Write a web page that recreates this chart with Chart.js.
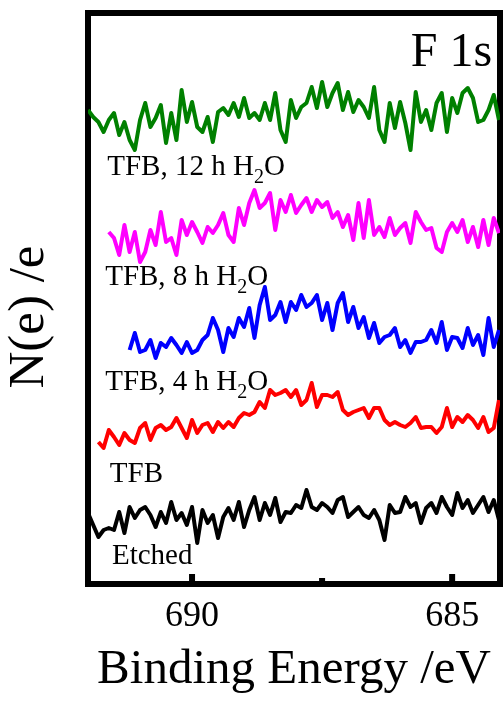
<!DOCTYPE html>
<html>
<head>
<meta charset="utf-8">
<script src="https://cdn.jsdelivr.net/npm/chart.js@4.4.0/dist/chart.umd.min.js"></script>
<style>
  html, body { margin: 0; padding: 0; background: #fff; }
</style>
</head>
<body>
<canvas id="xps" width="504" height="701"></canvas>
<script>
// binding energy grid (eV), 0.1 eV steps
const energies = [
  692.0, 691.9, 691.8, 691.7, 691.6, 691.5, 691.4, 691.3, 691.2, 691.1,
  691.0, 690.9, 690.8, 690.7, 690.6, 690.5, 690.4, 690.3, 690.2, 690.1,
  690.0, 689.9, 689.8, 689.7, 689.6, 689.5, 689.4, 689.3, 689.2, 689.1,
  689.0, 688.9, 688.8, 688.7, 688.6, 688.5, 688.4, 688.3, 688.2, 688.1,
  688.0, 687.9, 687.8, 687.7, 687.6, 687.5, 687.4, 687.3, 687.2, 687.1,
  687.0, 686.9, 686.8, 686.7, 686.6, 686.5, 686.4, 686.3, 686.2, 686.1,
  686.0, 685.9, 685.8, 685.7, 685.6, 685.5, 685.4, 685.3, 685.2, 685.1,
  685.0, 684.9, 684.8, 684.7, 684.6, 684.5, 684.4, 684.3, 684.2, 684.1
];

// N(e)/e, offset per sample (arbitrary units)
const h2o12 = [
  474, 467, 462, 452, 464, 471, 449, 462, 444, 434,
  464, 481, 457, 466, 479, 441, 471, 444, 494, 462,
  482, 457, 452, 467, 442, 472, 476, 469, 481, 467,
  486, 466, 471, 464, 481, 464, 491, 454, 442, 484,
  466, 477, 481, 497, 476, 502, 477, 491, 501, 474,
  492, 472, 484, 477, 466, 497, 454, 442, 481, 456,
  482, 461, 434, 492, 462, 474, 454, 481, 491, 452,
  486, 471, 491, 496, 486, 462, 464, 474, 489, 464
];
const h2o8 = [
  null, null, null, null, 352, 346, 329, 359, 332, 352,
  322, 332, 354, 339, 372, 342, 346, 329, 364, 349,
  362, 352, 341, 357, 351, 359, 371, 349, 342, 376,
  359, 381, 394, 376, 381, 391, 354, 384, 372, 389,
  371, 379, 386, 372, 384, 377, 382, 366, 372, 357,
  369, 344, 381, 346, 384, 349, 357, 347, 366, 349,
  356, 361, 341, 372, 362, 354, 356, 336, 332, 352,
  361, 352, 364, 342, 357, 337, 364, 339, 366, 351
];
const h2o4 = [
  null, null, null, null, null, null, null, null, 234, 251,
  232, 234, 244, 226, 241, 237, 246, 239, 231, 242,
  231, 234, 244, 249, 266, 254, 232, 256, 247, 266,
  257, 276, 246, 279, 297, 264, 269, 282, 262, 282,
  274, 289, 277, 281, 289, 264, 281, 254, 281, 291,
  262, 277, 256, 267, 246, 261, 241, 247, 249, 256,
  237, 244, 231, 242, 242, 244, 254, 241, 262, 234,
  247, 246, 236, 256, 239, 249, 229, 266, 237, 254
];
const tfb = [
  null, null, 142, 136, 154, 147, 139, 151, 144, 141,
  156, 161, 144, 156, 159, 154, 157, 166, 156, 146,
  164, 151, 159, 161, 152, 162, 156, 162, 157, 166,
  171, 169, 172, 182, 176, 194, 189, 191, 194, 187,
  194, 179, 184, 201, 177, 189, 189, 187, 192, 174,
  169, 172, 174, 176, 166, 176, 176, 164, 159, 162,
  159, 157, 161, 167, 156, 157, 157, 151, 157, 176,
  157, 167, 162, 169, 164, 156, 167, 152, 156, 184
];
const etched = [
  71, 59, 47, 54, 56, 54, 72, 51, 77, 66,
  74, 77, 69, 57, 72, 61, 82, 64, 71, 59,
  77, 41, 74, 61, 69, 46, 67, 76, 64, 82,
  57, 74, 87, 64, 81, 69, 86, 62, 72, 71,
  79, 76, 94, 77, 74, 81, 77, 71, 84, 87,
  67, 72, 77, 69, 66, 74, 64, 44, 79, 71,
  72, 87, 77, 81, 61, 76, 81, 71, 87, 77,
  69, 91, 76, 84, 71, 79, 87, 72, 84, 64
];

const seriesNames = ['TFB, 12 h H2O', 'TFB, 8 h H2O', 'TFB, 4 h H2O', 'TFB', 'Etched'];
const seriesColors = ['#008000', '#ff00ff', '#0000ff', '#ff0000', '#000000'];
const seriesValues = [h2o12, h2o8, h2o4, tfb, etched];

// label text pieces (sub = subscript), anchored at [energy, intensity]
const labelParts = [
  [{ t: 'TFB, 12 h H' }, { t: '2', sub: true }, { t: 'O' }],
  [{ t: 'TFB, 8 h H' }, { t: '2', sub: true }, { t: 'O' }],
  [{ t: 'TFB, 4 h H' }, { t: '2', sub: true }, { t: 'O' }],
  [{ t: 'TFB' }],
  [{ t: 'Etched' }]
];
const labelAnchors = [[691.63, 409], [691.67, 299], [691.67, 194], [691.58, 102], [691.54, 20]];

const majorTicks = [690, 685];
const minorTicks = [687.5];
const energyRange = [684.08, 692];
const intensityRange = [0, 571];

const serif = '"Liberation Serif", "Times New Roman", Times, serif';

const datasets = seriesValues.map((vals, i) => ({
  label: seriesNames[i],
  data: energies.map((e, j) => ({ x: e, y: vals[j] })).filter(p => p.y !== null),
  borderColor: seriesColors[i],
  borderWidth: 4,
  borderJoinStyle: 'round',
  pointRadius: 0,
  tension: 0,
  fill: false
}));

const frame = {
  id: 'frame',
  beforeDatasetsDraw(chart) {
    const { ctx, chartArea: a, scales: { x } } = chart;
    ctx.save();
    ctx.strokeStyle = '#000';
    ctx.lineWidth = 6;
    ctx.strokeRect(a.left, a.top, a.right - a.left, a.bottom - a.top);
    // ticks point into the plot
    ctx.fillStyle = '#000';
    majorTicks.forEach(v => {
      const px = x.getPixelForValue(v);
      ctx.fillRect(px - 3, a.bottom - 10, 6, 10);
    });
    minorTicks.forEach(v => {
      const px = x.getPixelForValue(v);
      ctx.fillRect(px - 3, a.bottom - 6, 6, 6);
    });
    ctx.restore();
  },
  afterDatasetsDraw(chart) {
    const { ctx, scales: { x, y } } = chart;
    ctx.save();
    ctx.fillStyle = '#000';
    ctx.textBaseline = 'alphabetic';
    labelParts.forEach((parts, i) => {
      let cx = x.getPixelForValue(labelAnchors[i][0]);
      const cy = y.getPixelForValue(labelAnchors[i][1]);
      parts.forEach(p => {
        ctx.font = (p.sub ? '20px ' : '29px ') + serif;
        ctx.fillText(p.t, cx, p.sub ? cy + 8 : cy);
        cx += ctx.measureText(p.t).width;
      });
    });

    ctx.font = '48px ' + serif;
    ctx.textAlign = 'right';
    ctx.fillText('F 1s', x.getPixelForValue(684.23), y.getPixelForValue(518));

    // y axis title
    ctx.translate(30, 317);
    ctx.rotate(-Math.PI / 2);
    ctx.textAlign = 'center';
    ctx.textBaseline = 'middle';
    ctx.font = '51px ' + serif;
    ctx.fillText('N(e) /e', 0, 0);
    ctx.restore();
  }
};

new Chart(document.getElementById('xps'), {
  type: 'line',
  data: { datasets },
  options: {
    responsive: false,
    animation: false,
    layout: { padding: { top: 13, right: 4, left: 88, bottom: 0 } },
    plugins: { legend: { display: false }, tooltip: { enabled: false } },
    scales: {
      x: {
        type: 'linear',
        reverse: true,
        min: energyRange[0],
        max: energyRange[1],
        afterBuildTicks: s => { s.ticks = majorTicks.map(v => ({ value: v })); },
        afterFit: s => { s.height = 117; },
        grid: { display: false, drawTicks: false },
        border: { display: false },
        ticks: { color: '#000', padding: 11, maxRotation: 0, font: { family: serif, size: 36 } },
        title: {
          display: true,
          text: 'Binding Energy /eV',
          color: '#000',
          padding: { top: 0, bottom: 1 },
          font: { family: serif, size: 49 }
        }
      },
      y: {
        display: false,
        min: intensityRange[0],
        max: intensityRange[1]
      }
    }
  },
  plugins: [frame]
});
</script>
</body>
</html>
